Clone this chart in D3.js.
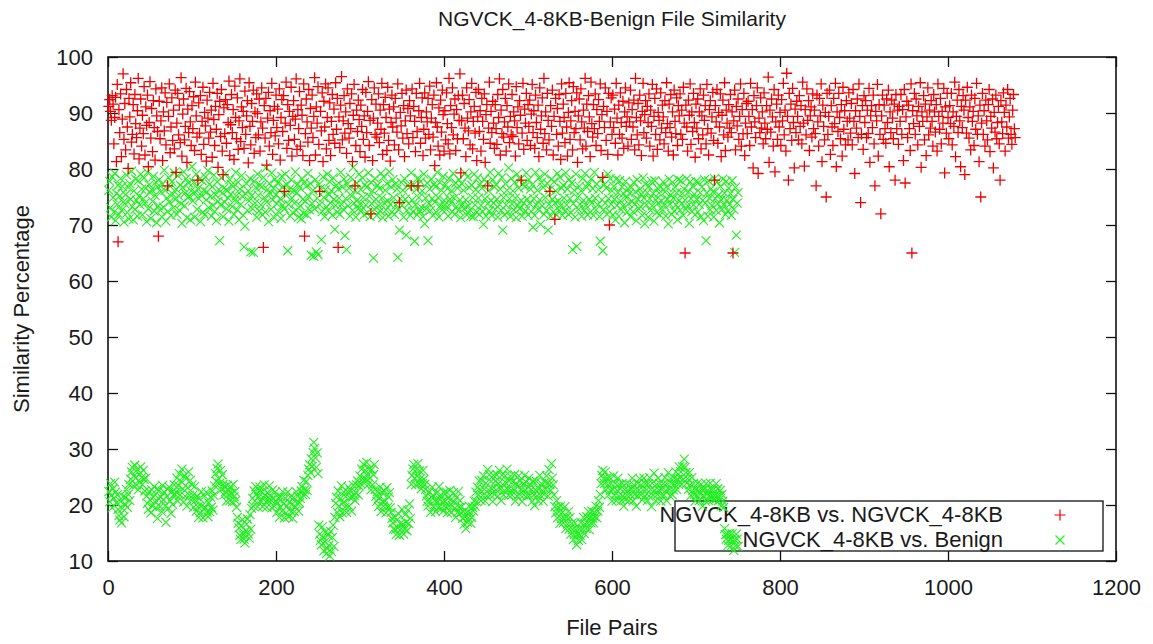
<!DOCTYPE html>
<html lang="en-US">
<head>
<meta charset="utf-8">
<script src="https://d3js.org/d3.v7.min.js"></script>
<style>
    body { margin: 0; background: #fff; }
    svg text { font-family: "Liberation Sans", Arial, sans-serif; fill: #1a1a1a; }
</style>
</head>
<body>
<svg width="1153" height="644"></svg>

<script>
var chartTitle = "NGVCK_4-8KB-Benign File Similarity";
var xLabel = "File Pairs";
var yLabel = "Similarity Percentage";
var seriesNames = ["NGVCK_4-8KB vs. NGVCK_4-8KB", "NGVCK_4-8KB vs. Benign"];
var xTicks = [0, 200, 400, 600, 800, 1000, 1200];
var yTicks = [10, 20, 30, 40, 50, 60, 70, 80, 90, 100];

// NGVCK vs NGVCK similarity, file pair number = index + 1
var ngvckPairs = [
    91.2,92.4,90.3,88.7,93.1,91.6,84.5,89.2,92.8,81.3,95.1,67,90.6,86.5,93.4,82.2,88.9,97,85.3,91.7,
    83.4,94.2,87.5,80.1,92.6,89.3,95.4,84.8,86.2,91.5,82.7,93.3,88.1,85.6,90.4,96.2,81.8,87.3,92.5,84.1,
    89.6,86.3,94.7,82.5,91.1,87.8,93.2,80.4,88.3,95.6,85.5,90.8,83.1,92.2,87.4,81.6,94.3,89.5,86.7,68,
    92.1,85.4,88.6,94.5,81.5,90.2,86.8,93.6,84.3,91.9,77,89.4,95.2,82.9,87.5,92.7,85.1,90.5,83.6,94.1,
    79.4,88.2,93.5,86.1,91.4,84.7,96.3,82.3,89.8,92.5,85.2,87.6,94.4,81.2,90.7,86.5,93.8,88.4,84.2,91.3,
    87.2,92.9,83.3,95.5,89.5,85.7,78,91.8,86.4,93.1,82.6,88.5,94.6,84.4,90.1,87.7,81.4,92.3,89.1,85.5,
    93.7,86.6,90.5,82.1,95.3,88.8,84.2,91.2,87.1,93.5,80.3,89.7,92.1,85.8,94.2,83.2,79,90.9,86.3,92.4,
    84.6,91.5,88.3,95.7,82.4,87.9,93.3,86.5,90.6,81.7,94.8,89.2,85.4,92.7,83.5,88.6,96.1,84.9,91.1,87.4,
    90.3,83.7,93.9,86.2,89.5,92.2,81.1,95.4,87.6,84.3,91.7,88.5,94.1,82.8,90.2,85.6,93.4,89.9,86.1,92.5,
    83.2,88.4,94.5,87.3,66,91.3,85.5,92.6,80.7,89.1,93.7,84.1,90.4,86.5,95.3,82.6,88.7,91.2,85.9,93.2,
    87.4,90.7,84.5,94.3,81.6,89.2,92.4,86.7,93.1,76,88.2,95.5,83.7,91.5,85.1,90.3,87.8,94.6,82.3,89.4,
    92.2,85.3,88.9,96.1,83.5,90.6,87.2,93.8,84.1,91.4,89.6,82.4,95.2,68,86.3,92.5,88.4,84.8,94.2,81.5,
    90.8,87.3,93.2,85.6,89.4,96.3,82.5,91.1,88.2,94.7,84.4,76,90.3,86.8,93.6,81.3,92.1,87.5,95.2,83.6,
    89.2,94.5,85.1,91.8,82.4,88.5,93.3,86.2,90.7,84.6,95.4,87.1,92.6,66,89.3,83.8,91.4,96.5,85.2,88.6,
    93.1,86.4,90.2,82.8,94.3,88.1,85.5,91.7,87.2,93.4,81.3,89.6,95.1,77,84.2,90.5,86.7,92.3,88.8,83.1,
    91.4,87.6,94.2,85.3,89.5,82.1,93.7,86.5,90.3,95.6,84.2,88.7,72,92.4,81.5,89.1,94.5,86.2,91.6,85.7,
    88.2,93.4,84.7,90.5,87.1,95.3,82.6,91.5,86.4,92.8,89.2,83.3,94.6,85.1,90.7,81.4,88.3,93.2,87.5,91.1,
    84.3,92.6,89.1,86.6,95.2,83.4,74,90.1,87.7,93.5,85.5,91.3,82.2,88.6,94.1,86.3,90.8,84.5,92.2,89.5,
    77,94.3,85.6,91.2,88.5,83.1,93.5,86.7,77,90.4,95.3,84.6,89.2,92.7,82.4,87.1,93.6,85.5,90.2,88.4,
    92.6,86.2,94.8,83.4,89.1,91.5,85.7,93.2,80.6,88.3,95.4,87.5,84.1,90.9,82.5,92.3,86.6,94.1,89.7,83.2,
    90.4,85.2,93.6,88.1,84.5,96.2,82.7,91.3,87.4,94.5,86.1,89.8,92.5,83.3,90.6,85.4,93.1,88.7,97,79.3,
    88.6,93.2,85.4,91.7,87.3,82.2,94.5,89.1,86.8,92.4,84.3,90.2,95.3,83.6,88.5,91.2,86.4,93.7,81.5,89.3,
    94.2,86.7,90.4,83.2,92.6,88.5,85.3,93.4,81.2,89.7,91.5,77,87.3,95.5,84.6,90.3,86.5,92.1,88.2,83.7,
    91.5,87.2,84.4,93.3,89.2,96.1,82.5,90.5,86.3,94.2,85.7,88.4,92.6,83.2,91.3,87.5,95.2,84.7,89.4,86.1,
    93.3,85.8,90.2,88.6,82.3,94.7,87.4,91.1,84.5,92.2,89.6,78,86.4,95.3,83.5,90.7,88.2,93.5,85.1,91.5,
    87.6,92.3,84.2,89.8,95.1,86.5,90.4,83.7,93.2,88.3,85.6,91.4,82.2,94.5,87.1,89.5,92.7,84.6,96.2,86.3,
    90.2,83.4,93.5,88.7,85.2,76,91.3,87.6,94.1,82.5,89.4,71,92.6,86.2,90.8,84.1,93.3,88.5,81.7,95.2,
    86.4,91.6,89.2,84.7,93.5,87.5,82.3,90.1,95.4,85.3,88.6,92.2,83.4,94.7,86.5,90.3,87.2,93.6,81.2,89.5,
    92.5,85.2,94.3,88.4,83.6,90.5,87.3,96.2,84.1,91.6,86.7,93.1,89.3,82.2,95.5,88.1,85.7,91.5,87.2,93.4,
    84.2,90.6,86.3,92.4,88.5,95.2,83.3,89.7,78.5,91.2,87.4,94.5,85.1,90.3,82.6,93.5,70,88.4,92.7,86.2,
    93.2,87.4,90.7,84.6,95.3,89.1,82.5,91.4,86.2,93.6,88.3,85.5,92.1,83.7,90.2,94.5,87.6,89.3,84.1,91.8,
    88.4,94.1,85.3,90.6,87.5,92.3,83.4,96.2,89.2,86.1,91.7,84.3,93.2,88.6,82.4,90.3,95.3,86.5,89.7,92.2,
    85.5,91.2,88.3,93.4,84.1,90.5,87.6,95.1,82.3,89.4,92.6,86.2,94.3,83.5,90.1,88.7,85.2,93.6,87.3,91.4,
    89.3,84.5,92.2,86.5,95.4,88.1,83.2,91.6,87.4,93.3,85.7,90.2,82.5,94.1,88.5,86.3,92.7,84.2,91.3,89.5,
    93.4,86.2,90.5,85.3,94.6,88.2,65,91.4,87.5,83.2,92.3,89.6,95.2,84.4,90.2,86.7,93.5,88.3,82.1,91.6,
    87.3,92.5,85.4,90.2,94.3,83.6,89.5,86.1,93.2,88.7,91.3,84.5,95.1,87.2,82.5,90.6,92.2,86.4,89.3,93.7,
    85.1,78,91.3,88.4,94.2,84.6,90.1,87.5,93.4,82.2,89.6,92.3,86.1,95.4,83.3,90.5,88.2,85.7,91.5,87.3,
    93.3,86.5,90.2,65,88.6,94.1,83.4,91.2,87.7,92.5,85.3,89.4,95.2,84.1,90.6,86.3,93.5,82.4,88.2,91.7,
    86.3,92.1,89.4,84.2,95.3,87.5,90.6,80.2,93.1,88.4,85.6,91.3,94.5,79.2,89.1,86.5,92.7,87.3,90.2,84.5,
    93.6,88.2,85.4,91.3,87.1,96.4,81.2,90.5,86.6,92.5,89.3,84.1,94.2,79.5,88.4,91.6,85.3,93.2,87.5,90.1,
    84.2,92.4,88.6,95.3,86.1,90.5,83.2,97.1,89.4,78,93.5,87.2,91.6,85.1,94.4,88.3,80.2,90.7,86.5,92.1,
    89.4,85.2,93.1,87.6,91.3,84.5,95.5,88.2,80.5,90.6,86.1,94.3,88.7,92.2,83.3,89.5,91.1,85.7,93.4,87.2,
    90.5,86.3,77,93.2,88.4,84.1,92.6,89.5,95.2,81.3,91.4,87.6,85.2,90.1,75,93.5,86.2,89.4,94.1,82.6,
    91.3,87.5,84.2,92.6,88.1,95.3,80.4,90.2,86.7,93.5,89.2,85.4,91.5,82.3,94.6,87.1,90.4,84.3,92.2,88.5,
    85.2,93.6,89.1,86.4,91.7,84.3,94.2,88.5,79.2,90.4,87.3,92.5,85.6,95.2,89.4,74,86.2,91.3,83.5,93.1,
    88.3,92.2,85.6,90.5,86.3,94.4,81.2,89.5,91.3,87.4,93.2,84.5,77,90.3,88.6,95.1,82.3,91.5,86.2,72,
    89.5,93.2,85.3,91.4,87.2,84.6,92.5,88.3,94.1,80.4,90.2,86.5,92.3,89.1,85.4,91.6,78,93.3,87.2,90.5,
    84.4,91.2,88.5,93.3,86.2,90.6,81.5,94.2,77.5,89.3,92.1,85.6,91.4,87.2,83.3,95.2,65,90.4,88.1,93.5,
    86.2,92.5,89.5,84.3,91.2,87.6,95.4,80.3,90.2,88.5,93.1,85.2,91.6,82.4,89.3,94.5,86.1,90.5,87.3,92.2,
    88.5,84.1,93.3,90.2,86.6,91.5,83.2,95.2,89.4,87.1,92.6,84.5,90.3,88.2,94.4,79.3,91.1,86.4,93.5,89.2,
    85.4,91.3,88.1,93.5,84.3,90.2,87.6,95.5,82.2,89.4,92.3,86.5,94.2,88.6,80.4,91.2,87.4,93.1,90.5,79,
    92.3,86.4,94.6,89.2,85.5,91.1,83.4,93.2,88.5,90.3,84.2,92.6,87.1,95.3,86.2,89.5,81.3,91.4,75,88.2,
    93.5,86.2,90.4,84.1,92.3,88.6,85.2,91.5,94.2,83.1,89.4,87.3,92.5,80.2,90.1,86.6,93.2,85.4,88.3,91.2,
    84.5,78,92.2,88.4,86.3,93.6,90.1,83.2,91.4,87.5,94.2,85.5,89.3,92.6,86.2,84.4,90.5,93.3,87.2,85.6
];

// NGVCK vs benign, upper group, file pair number = index + 1
var benignHigh = [
    76.2,77.8,73.1,71.4,78.6,74.9,72.3,79.2,70.8,75.6,73.7,77.1,71.9,75.2,78.3,72.6,76.9,74.1,70.5,73.8,
    75.4,78.9,72.2,76.7,71.1,77.4,74.6,79.6,73.3,70.9,76.1,72.8,78.2,74.4,71.6,77.9,75.1,73.6,79.1,76.4,
    71.8,74.7,78.4,73.9,76.6,70.6,79.4,72.9,77.2,75.8,71.2,76.3,74.2,78.7,72.5,75.3,77.6,70.4,76.8,73.4,
    78.1,72.7,75.9,71.5,77.3,73.2,79.8,76.2,70.7,74.8,72.4,78.5,74.1,76.9,71.7,77.7,75.5,73.1,79.3,74.6,
    76.4,71.9,78.8,75.2,72.6,77.1,73.8,70.3,76.7,79.5,73.4,75.7,78.3,71.3,74.9,77.5,75.1,70.9,76.1,80.4,
    74.3,77.6,71.4,75.8,79.1,72.8,76.5,74.7,78.2,70.6,75.3,77.9,72.3,76.2,71.8,78.6,74.5,75.9,79.7,73.1,
    77.3,75.1,71.6,76.8,73.5,78.9,72.4,75.4,70.8,77.7,74.2,76.3,67.2,73.6,78.4,75.7,71.5,76.6,74.1,79.2,
    72.9,76.2,74.8,70.7,78.1,75.5,77.2,73.3,76.9,71.9,74.4,79.4,75.2,72.7,77.6,70.9,76.4,73.7,78.8,75.1,
    71.7,66.1,69.8,75.6,77.4,72.6,76.1,74.3,78.3,65.2,75.2,72.9,65.1,77.8,73.9,76.7,71.4,79.1,75.3,72.5,
    77.1,73.6,76.8,71.8,78.5,74.9,72.3,80.2,74.1,76.3,70.6,77.4,75.6,72.8,79.3,74.5,76.6,71.3,78.2,75.4,
    73.8,77.5,72.4,76.2,74.7,71.2,78.7,73.5,76.9,72.9,79.1,75.3,77.2,65.4,73.7,76.4,71.6,78.1,74.8,72.2,
    76.1,73.9,79.5,72.6,75.8,77.3,71.4,76.7,73.4,71.1,78.3,74.6,72.1,77.6,74.2,76.9,71.8,79.2,75.1,72.7,
    77.4,64.6,73.8,76.2,64.4,72.9,78.1,65.2,74.8,64.7,77.2,73.6,76.5,67.4,72.4,78.6,74.9,71.5,76.3,73.3,
    79.1,72.6,75.4,77.7,73.9,76.1,71.7,78.4,74.6,69.2,73.5,77.1,72.3,76.4,74.8,71.9,79.4,73.7,76.8,72.8,
    78.2,68.1,74.7,65.6,77.3,73.4,76.6,71.6,78.5,75.2,72.6,80.3,73.9,76.2,71.4,77.5,74.5,72.9,79.1,73.7,
    76.3,72.7,78.4,74.9,71.8,77.2,73.6,76.7,72.2,79.3,75.1,71.5,77.6,73.8,76.1,64.1,72.8,78.3,74.6,71.7,
    77.1,73.4,76.5,72.5,79.2,74.8,71.3,78.6,73.9,76.2,72.7,77.4,74.3,71.6,79.5,73.7,76.8,72.3,78.1,74.9,
    71.9,77.3,73.6,76.4,64.2,72.8,69.1,74.7,77.6,73.5,76.2,71.4,78.3,74.6,68.2,72.6,77.1,73.8,76.7,71.7,
    79.3,74.5,72.4,77.2,67.1,73.6,76.3,71.8,78.4,74.9,72.5,77.7,73.2,76.1,71.5,79.1,70.2,74.8,72.9,77.5,
    67.2,73.8,76.4,72.6,78.2,74.7,71.7,77.3,74.1,76.8,72.3,79.4,74.9,71.4,77.6,73.5,76.2,72.7,78.7,74.4,
    73.6,77.2,72.8,76.5,71.6,78.3,74.6,73.9,76.1,72.4,79.2,74.8,71.9,77.5,73.3,76.6,72.6,78.1,74.5,71.3,
    77.4,73.7,76.2,72.9,79.3,74.5,71.8,78.6,73.4,76.7,72.7,71.6,77.1,74.9,71.5,79.1,73.6,76.3,72.3,78.4,
    74.8,71.9,77.3,73.5,76.6,72.4,70.1,78.2,74.7,71.6,77.6,73.8,76.1,72.5,79.4,74.4,71.7,78.1,73.9,76.8,
    72.8,77.2,74.6,71.4,79.2,73.7,76.4,72.6,78.5,69.1,74.9,71.8,77.4,73.6,76.2,72.3,80.2,74.7,71.5,78.3,
    73.7,76.1,72.7,77.6,74.8,71.3,79.1,73.5,76.6,72.9,78.2,74.4,71.6,77.3,73.9,76.8,72.5,79.3,74.6,71.8,
    78.1,73.8,76.4,72.4,77.2,69.6,74.7,71.7,79.4,73.6,76.2,72.8,78.4,74.5,70.1,77.6,73.4,76.7,71.9,79.1,
    74.9,72.6,77.4,69.1,73.7,76.3,71.6,78.2,74.6,72.4,77.7,73.9,76.1,71.8,79.2,74.3,72.7,78.5,73.5,76.6,
    71.7,77.1,74.8,72.5,79.3,73.6,76.4,71.9,78.1,74.7,72.2,77.5,65.6,73.8,76.2,71.4,79.1,66.2,74.9,72.8,
    76.9,73.7,76.1,71.6,78.3,74.4,72.6,79.2,73.5,76.7,71.8,77.4,74.6,72.3,78.2,73.9,76.5,71.7,79.4,74.8,
    72.7,77.3,73.6,76.3,71.5,67.1,78.1,74.5,65.4,72.8,77.2,73.9,76.6,71.9,79.1,74.7,72.4,78.3,73.7,76.1,
    71.8,76.9,74.6,70.9,78.2,73.5,75.8,71.6,77.9,74.3,72.7,76.8,73.4,75.6,70.4,77.8,74.9,72.3,76.5,73.8,
    75.7,71.5,76.7,74.2,72.4,77.6,73.7,75.9,70.8,78.1,74.6,72.9,76.4,73.3,75.5,71.7,78.4,74.8,70.2,77.3,
    73.6,75.8,71.4,76.9,74.7,72.6,77.8,73.4,75.6,70.7,77.9,74.5,72.2,76.6,73.9,75.7,71.8,76.8,74.3,72.7,
    77.7,73.5,75.9,71.6,76.8,74.6,70.2,78.2,73.7,75.4,71.9,77.6,74.8,72.5,76.7,73.6,75.8,70.9,78.1,74.4,
    72.6,77.9,73.8,75.6,71.7,76.4,74.5,72.8,78.3,73.4,75.9,70.3,77.7,74.7,72.4,76.9,73.6,75.5,71.8,77.8,
    74.6,72.3,77.6,73.7,75.8,71.5,76.8,74.4,70.8,78.1,73.9,67.2,75.7,71.6,77.9,74.8,72.7,76.5,73.5,75.9,
    71.4,78.3,74.7,72.6,77.7,73.8,75.4,70.4,76.9,74.5,72.8,78.2,73.6,75.7,71.9,77.8,74.4,72.5,76.6,73.7,
    75.6,71.7,77.9,74.6,72.8,65.1,76.7,68.2,73.9,75.8
];

// NGVCK vs benign, lower group, file pair number = index + 1
var benignLow = [
    22.4,20.6,23.8,21.7,19.5,22.9,21.2,24.1,22.3,20.4,21.8,19.2,18.1,17.3,20.6,16.8,19.4,21.5,17.9,20.2,
    21.3,22.8,19.6,21.9,23.7,20.8,24.6,25.9,26.7,23.4,25.2,27.1,24.8,23.6,26.3,22.7,25.5,24.1,26.8,24.9,
    23.7,26.2,24.6,22.5,24.8,21.6,20.3,19.2,22.4,20.9,18.6,22.7,19.8,21.4,23.3,20.6,19.5,22.8,17.6,21.2,
    22.6,19.7,21.4,18.8,23.5,20.9,22.3,19.9,16.9,21.6,22.8,19.4,23.2,20.7,18.5,22.4,20.1,21.8,23.6,21.9,
    22.3,24.8,20.7,23.4,25.6,21.8,24.2,26.4,22.9,20.5,25.3,21.6,24.7,19.8,23.1,25.9,21.7,24.4,20.9,23.6,
    21.7,19.6,23.3,20.8,18.9,21.5,19.7,17.8,21.2,18.6,22.4,19.9,17.7,19.3,21.6,19.5,22.3,18.7,17.9,20.4,
    18.8,21.4,19.6,22.5,19.1,21.7,23.4,25.6,24.2,26.5,27.3,24.7,23.9,26.2,22.8,25.4,23.7,21.8,23.2,22.4,
    20.7,23.5,21.9,22.6,20.8,23.3,22.1,20.6,23.7,21.5,22.4,20.8,19.6,17.8,16.7,15.9,14.6,13.8,16.3,17.4,
    14.7,13.9,13.2,15.4,16.6,17.5,14.8,14.1,18.3,15.7,19.4,21.2,19.8,22.5,20.7,23.3,21.9,19.7,21.4,22.6,
    23.2,20.6,22.4,19.7,21.3,23.6,21.8,20.5,19.6,22.2,20.8,23.4,21.7,20.9,19.5,22.7,21.1,19.8,22.3,20.6,
    18.7,20.4,21.3,17.8,19.6,21.5,18.9,22.4,20.2,17.7,21.2,18.6,19.8,22.3,17.9,20.5,21.4,18.8,20.1,17.6,
    21.3,18.8,19.7,22.4,20.3,21.6,18.9,20.4,21.2,22.5,23.3,21.8,24.4,22.7,21.9,24.2,22.6,25.3,26.4,27.2,
    25.8,28.3,26.9,29.4,31.2,30.1,28.4,26.7,29.3,25.6,16.4,14.8,13.7,12.9,16.1,14.3,11.8,13.4,15.2,11.3,
    12.2,14.6,12.8,10.9,15.3,11.7,14.2,16.4,12.6,17.8,20.3,21.4,18.7,22.5,19.8,17.9,21.2,23.4,18.6,20.4,
    22.3,19.6,21.5,18.7,22.4,23.2,19.8,21.3,22.6,18.9,21.4,23.5,21.7,20.8,22.2,23.6,24.3,21.8,23.4,25.2,
    23.8,26.4,24.7,27.3,23.9,26.2,24.6,27.6,25.3,23.7,26.5,24.8,22.7,26.3,23.6,25.4,27.2,22.8,21.6,20.7,
    22.4,19.7,21.3,23.2,18.8,22.3,20.6,19.8,22.5,20.7,18.6,23.1,19.6,21.4,22.2,19.5,18.7,17.6,16.8,15.7,
    17.8,15.6,14.7,17.3,15.9,18.4,14.6,16.7,15.8,19.2,16.6,14.8,15.7,18.3,16.9,15.4,19.1,16.7,20.2,17.6,
    23.7,25.3,26.4,27.2,24.8,23.6,26.3,25.1,27.4,23.8,26.1,24.7,22.9,23.8,26.2,24.6,23.7,22.8,21.6,20.7,
    19.8,22.3,20.6,18.7,21.4,23.2,21.7,19.6,20.8,18.8,22.1,20.7,19.5,23.3,20.9,21.8,19.4,20.6,18.9,22.2,
    20.7,19.6,22.3,18.6,21.2,19.8,22.6,20.9,18.7,19.9,22.2,20.6,19.4,17.8,21.3,18.7,22.4,19.6,20.8,18.6,
    19.7,17.6,18.8,16.6,17.9,15.8,18.7,16.9,17.7,19.8,18.6,16.7,17.8,19.6,18.9,20.7,19.8,22.3,20.6,23.2,
    21.8,24.3,22.6,20.8,24.4,21.7,25.2,22.8,20.7,23.9,21.6,26.3,22.7,25.4,21.8,24.2,22.9,20.6,25.3,21.9,
    24.2,22.7,25.4,21.6,23.8,26.2,22.9,20.8,25.3,23.7,21.8,22.6,25.2,23.9,26.4,22.8,21.7,24.3,25.1,22.6,
    21.8,24.2,22.7,25.4,20.7,23.9,21.6,23.3,25.2,21.9,24.4,22.8,20.6,23.7,21.8,25.3,22.6,24.1,21.7,23.2,
    24.8,21.7,23.6,22.8,20.6,24.3,21.8,19.9,22.7,24.2,21.6,20.8,22.9,25.3,21.7,23.8,22.6,20.7,21.9,24.1,
    22.8,25.2,23.9,21.6,26.3,23.7,22.6,27.4,24.8,23.6,21.8,19.7,18.6,20.8,17.7,19.6,18.8,16.7,19.8,17.6,
    18.7,16.8,17.6,19.7,15.8,17.9,16.6,18.8,15.7,17.8,14.8,16.7,15.6,13.8,14.7,16.8,15.6,12.9,14.8,13.7,
    15.8,14.6,16.9,13.8,15.7,17.8,14.9,16.6,15.8,17.9,16.7,18.8,15.6,17.7,16.8,18.9,17.6,16.8,18.7,17.9,
    19.8,17.7,18.9,20.8,19.6,21.9,23.8,25.3,26.2,24.7,23.8,25.9,22.7,24.8,23.6,21.8,24.9,22.6,23.8,20.7,
    22.8,25.2,21.7,23.9,20.8,22.6,24.8,21.6,23.7,22.9,20.8,23.8,21.6,19.8,22.7,20.9,23.8,21.7,22.6,20.8,
    23.7,21.8,22.9,24.8,20.7,23.6,21.9,22.8,19.8,21.7,23.9,22.6,24.7,21.8,23.6,20.9,22.7,24.8,21.6,23.8,
    22.7,20.8,23.8,21.6,24.9,22.8,19.7,23.9,21.8,25.7,22.6,20.8,23.7,21.9,24.8,22.6,23.8,20.7,22.9,21.6,
    23.8,21.7,24.9,22.6,20.8,23.7,25.8,22.9,21.6,24.7,23.9,21.8,22.7,24.8,23.6,25.9,22.8,24.6,23.7,26.8,
    24.8,25.9,23.7,26.8,24.6,28.2,26.7,25.8,23.9,24.7,22.8,25.8,23.6,21.7,24.9,22.6,23.8,21.9,20.7,22.8,
    21.7,23.9,22.6,20.8,21.9,23.7,22.8,19.8,21.6,22.9,20.7,23.8,21.9,22.6,20.8,21.7,23.9,22.8,21.6,20.9,
    22.8,21.7,20.9,23.8,21.6,22.9,20.8,21.7,22.6,19.8,21.9,20.7,19.6,15.8,14.7,13.9,14.8,12.8,13.7,14.9,
    13.8,12.7,14.9,13.6,11.9,13.8,12.7,14.8,13.9,12.6
];

var svg = d3.select("svg");
var plotLeft = 108, plotRight = 1116, plotTop = 57, plotBottom = 561;

var x = d3.scaleLinear().domain([0, 1200]).range([plotLeft, plotRight]);
var y = d3.scaleLinear().domain([10, 100]).range([plotBottom, plotTop]);

var plusPath = "M-5.5,0H5.5M0,-5.5V5.5";
var crossPath = "M-4.5,-4.5L4.5,4.5M-4.5,4.5L4.5,-4.5";
var red = "#ee0000";
var green = "#22ee22";

// axes, gnuplot style: ticks inside on all four sides
svg.append("g").attr("transform", `translate(0,${plotBottom})`)
    .call(d3.axisBottom(x).tickValues(xTicks).tickSize(-10).tickPadding(18).tickFormat(d3.format("d")));
svg.append("g").attr("transform", `translate(0,${plotTop})`)
    .call(d3.axisTop(x).tickValues(xTicks).tickSize(-10).tickFormat(""));
svg.append("g").attr("transform", `translate(${plotLeft},0)`)
    .call(d3.axisLeft(y).tickValues(yTicks).tickSize(-10).tickPadding(15));
svg.append("g").attr("transform", `translate(${plotRight},0)`)
    .call(d3.axisRight(y).tickValues(yTicks).tickSize(-10).tickFormat(""));

svg.selectAll(".domain").remove();
svg.selectAll(".tick line").attr("stroke", "#111").attr("stroke-width", 1.3);
svg.selectAll(".tick text").attr("font-size", 22).attr("fill", "#1a1a1a")
    .attr("font-family", '"Liberation Sans", Arial, sans-serif');

svg.append("rect")
    .attr("x", plotLeft).attr("y", plotTop)
    .attr("width", plotRight - plotLeft).attr("height", plotBottom - plotTop)
    .attr("fill", "none").attr("stroke", "#111").attr("stroke-width", 1.6);

// titles
svg.append("text").attr("x", 612).attr("y", 26).attr("text-anchor", "middle")
    .attr("font-size", 21).text(chartTitle);
svg.append("text").attr("x", 612).attr("y", 635).attr("text-anchor", "middle")
    .attr("font-size", 22).text(xLabel);
svg.append("text").attr("transform", "translate(29,309) rotate(-90)")
    .attr("text-anchor", "middle").attr("font-size", 22).text(yLabel);

// legend
var legend = svg.append("g");
legend.append("rect").attr("x", 675).attr("y", 501).attr("width", 428).attr("height", 50)
    .attr("fill", "none").attr("stroke", "#111").attr("stroke-width", 1.3);
var legendMarks = [plusPath, crossPath];
var legendColors = [red, green];
seriesNames.forEach(function(name, i) {
    legend.append("text").attr("x", 1003).attr("y", 522 + i * 25)
        .attr("text-anchor", "end").attr("font-size", 22).text(name);
    legend.append("path").attr("d", legendMarks[i])
        .attr("transform", `translate(1060,${515 + i * 25})`)
        .attr("stroke", legendColors[i]).attr("stroke-width", 1.2).attr("fill", "none");
});

// points
var benign = benignHigh.map((v, i) => ({n: i + 1, v: v}))
    .concat(benignLow.map((v, i) => ({n: i + 1, v: v})));
var ngvck = ngvckPairs.map((v, i) => ({n: i + 1, v: v}));

svg.append("g").selectAll("path")
    .data(benign)
    .enter().append("path")
    .attr("d", crossPath)
    .attr("transform", d => `translate(${x(d.n)},${y(d.v)})`)
    .attr("stroke", green).attr("stroke-width", 1.1).attr("fill", "none");

svg.append("g").selectAll("path")
    .data(ngvck)
    .enter().append("path")
    .attr("d", plusPath)
    .attr("transform", d => `translate(${x(d.n)},${y(d.v)})`)
    .attr("stroke", red).attr("stroke-width", 1.3).attr("fill", "none");
</script>
</body>
</html>
